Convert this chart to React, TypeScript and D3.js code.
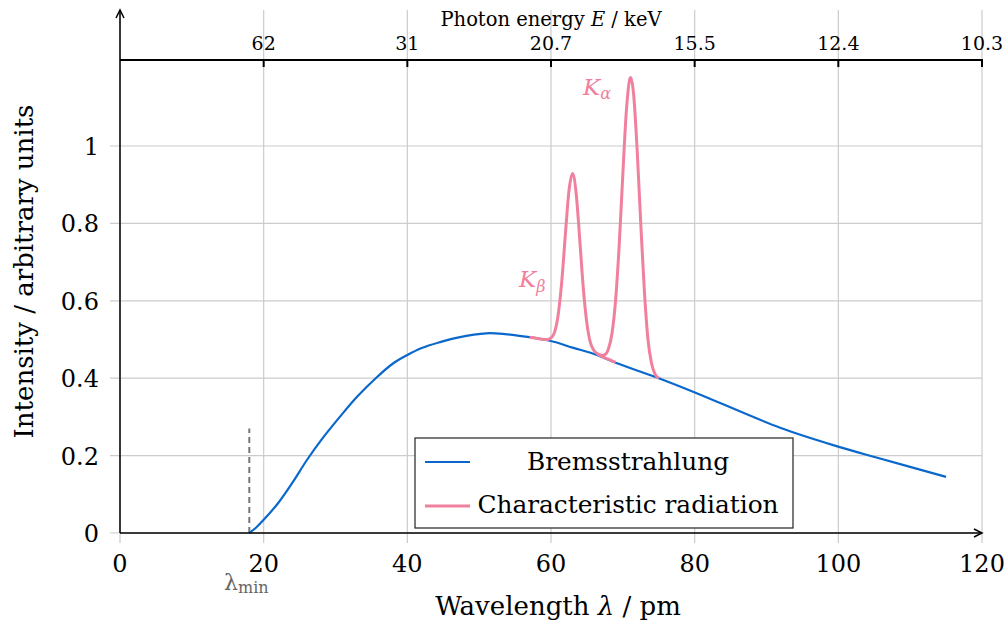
import React from "react";
import * as d3 from "d3";

// axis ticks
const wavelengthTicks = [0, 20, 40, 60, 80, 100, 120];
const intensityTicks = [0, 0.2, 0.4, 0.6, 0.8, 1];
const energyTickWavelengths = [20, 40, 60, 80, 100, 120];
const energyTickLabels = ["62", "31", "20.7", "15.5", "12.4", "10.3"];

// Bremsstrahlung continuum
const bremsLambda = [18, 19, 20, 22, 24, 26, 28, 30.6, 33, 35.6, 38, 40, 42, 44.5, 47, 51, 53.6, 57, 60, 63, 66.4, 69, 75, 80.2, 91.9, 100.2, 105.3, 115];
const bremsIntensity = [0, 0.015, 0.034, 0.077, 0.13, 0.188, 0.24, 0.3, 0.352, 0.4, 0.438, 0.46, 0.478, 0.493, 0.505, 0.516, 0.514, 0.506, 0.496, 0.479, 0.46, 0.44, 0.4, 0.362, 0.272, 0.222, 0.195, 0.145];

// characteristic lines, drawn as two overlapping pieces
const kBetaLambda = [57, 58, 59, 59.5, 60, 60.5, 61, 61.5, 62, 62.5, 63, 63.5, 64, 64.5, 65, 65.5, 66, 66.5, 67, 68, 69];
const kBetaIntensity = [0.506, 0.503, 0.5, 0.5, 0.504, 0.519, 0.564, 0.65, 0.771, 0.884, 0.929, 0.878, 0.759, 0.632, 0.541, 0.491, 0.471, 0.463, 0.457, 0.449, 0.441];
const kAlphaLambda = [66.5, 67, 67.5, 68, 68.5, 69, 69.5, 70, 70.5, 71, 71.1, 71.5, 72, 72.5, 73, 73.5, 74, 74.5, 75];
const kAlphaIntensity = [0.462, 0.459, 0.461, 0.476, 0.517, 0.603, 0.746, 0.927, 1.093, 1.175, 1.177, 1.134, 0.987, 0.798, 0.625, 0.5, 0.438, 0.41, 0.4];

const lambdaMin = 18;
const lambdaMinMarkTop = 0.27;

const W = 1008;
const H = 623;
const left = 120;
const right = 982;
const bottom = 533;
const plotTop = 10;
const topAxisY = 60;

const blue = "#0a68cc";
const pink = "#f0809e";
const grid = "#cccccc";
const font = "DejaVu Serif";

export default function App() {
  const x = d3.scaleLinear().domain([0, 120]).range([left, right]);
  const y = d3.scaleLinear().domain([0, 1]).range([bottom, 146]);

  const zip = (a: number[], b: number[]) => a.map((v, i) => [v, b[i]] as [number, number]);

  const smooth = d3
    .line<[number, number]>()
    .x((d) => x(d[0]))
    .y((d) => y(d[1]))
    .curve(d3.curveCatmullRom.alpha(0.5));
  const peaks = d3
    .line<[number, number]>()
    .x((d) => x(d[0]))
    .y((d) => y(d[1]))
    .curve(d3.curveMonotoneX);

  const bremsPath = smooth(zip(bremsLambda, bremsIntensity)) || "";
  const kBetaPath = peaks(zip(kBetaLambda, kBetaIntensity)) || "";
  const kAlphaPath = peaks(zip(kAlphaLambda, kAlphaIntensity)) || "";

  const legendX = 415;
  const legendY = 438;

  return (
    <svg width={W} height={H} style={{ position: "absolute", left: 0, top: 0 }} fontFamily={font}>
      <rect width={W} height={H} fill="white" />

      {/* grid */}
      {wavelengthTicks.map((t) => (
        <line key={"gx" + t} x1={x(t)} x2={x(t)} y1={plotTop} y2={bottom + 10} stroke={grid} strokeWidth={1.2} />
      ))}
      {intensityTicks.map((t) => (
        <line key={"gy" + t} x1={left - 10} x2={right} y1={y(t)} y2={y(t)} stroke={grid} strokeWidth={1.2} />
      ))}

      {/* top energy axis */}
      <line x1={left} x2={right} y1={topAxisY} y2={topAxisY} stroke="black" strokeWidth={2} />
      {energyTickWavelengths.map((t, i) => (
        <g key={"e" + t}>
          <line x1={x(t)} x2={x(t)} y1={topAxisY - 1} y2={topAxisY + 7} stroke="black" strokeWidth={2} />
          <text x={x(t)} y={50} fontSize={19} textAnchor="middle">
            {energyTickLabels[i]}
          </text>
        </g>
      ))}
      <text x={(left + right) / 2} y={26} fontSize={19.5} textAnchor="middle">
        Photon energy <tspan fontStyle="italic">E</tspan> / keV
      </text>

      {/* lambda min marker */}
      <line
        x1={x(lambdaMin)}
        x2={x(lambdaMin)}
        y1={y(0)}
        y2={y(lambdaMinMarkTop)}
        stroke="#777"
        strokeWidth={2}
        strokeDasharray="6,4"
      />
      <text x={224} y={590} fontSize={22} fill="#666">
        λ<tspan fontSize={16} dy={3}>min</tspan>
      </text>

      {/* curves */}
      <path d={bremsPath} fill="none" stroke={blue} strokeWidth={2.2} />
      <path d={kBetaPath} fill="none" stroke={pink} strokeWidth={3} strokeLinejoin="round" />
      <path d={kAlphaPath} fill="none" stroke={pink} strokeWidth={3} strokeLinejoin="round" />

      <text x={519} y={287} fontSize={23} fill={pink} fontStyle="italic">
        K<tspan fontSize={16} dy={5}>β</tspan>
      </text>
      <text x={583} y={95} fontSize={23} fill={pink} fontStyle="italic">
        K<tspan fontSize={16} dy={4}>α</tspan>
      </text>

      {/* axes */}
      <line x1={left} x2={right - 2} y1={bottom} y2={bottom} stroke="black" strokeWidth={1.5} />
      <path d={`M${right - 8},${bottom - 4} L${right},${bottom} L${right - 8},${bottom + 4}`} fill="none" stroke="black" strokeWidth={1.5} />
      <line x1={left} x2={left} y1={bottom} y2={plotTop + 2} stroke="black" strokeWidth={1.5} />
      <path d={`M${left - 4},${plotTop + 8} L${left},${plotTop} L${left + 4},${plotTop + 8}`} fill="none" stroke="black" strokeWidth={1.5} />

      {wavelengthTicks.map((t) => (
        <text key={"xl" + t} x={x(t)} y={572} fontSize={24} textAnchor="middle">
          {t}
        </text>
      ))}
      {intensityTicks.map((t) => (
        <text key={"yl" + t} x={99} y={y(t) + 9} fontSize={24} textAnchor="end">
          {t}
        </text>
      ))}

      <text x={(left + right) / 2 + 7} y={615} fontSize={26} textAnchor="middle">
        Wavelength <tspan fontStyle="italic">λ</tspan> / pm
      </text>
      <text transform={`translate(33,${(bottom + plotTop) / 2}) rotate(-90)`} fontSize={26} textAnchor="middle">
        Intensity / arbitrary units
      </text>

      {/* legend */}
      <rect x={legendX} y={legendY} width={378} height={90} fill="white" stroke="#222" strokeWidth={1.2} />
      <line x1={425} x2={470} y1={462} y2={462} stroke={blue} strokeWidth={2.2} />
      <line x1={425} x2={470} y1={506} y2={506} stroke={pink} strokeWidth={3} />
      <text x={628} y={470} fontSize={24.8} textAnchor="middle">
        Bremsstrahlung
      </text>
      <text x={628} y={513} fontSize={24.8} textAnchor="middle">
        Characteristic radiation
      </text>
    </svg>
  );
}
